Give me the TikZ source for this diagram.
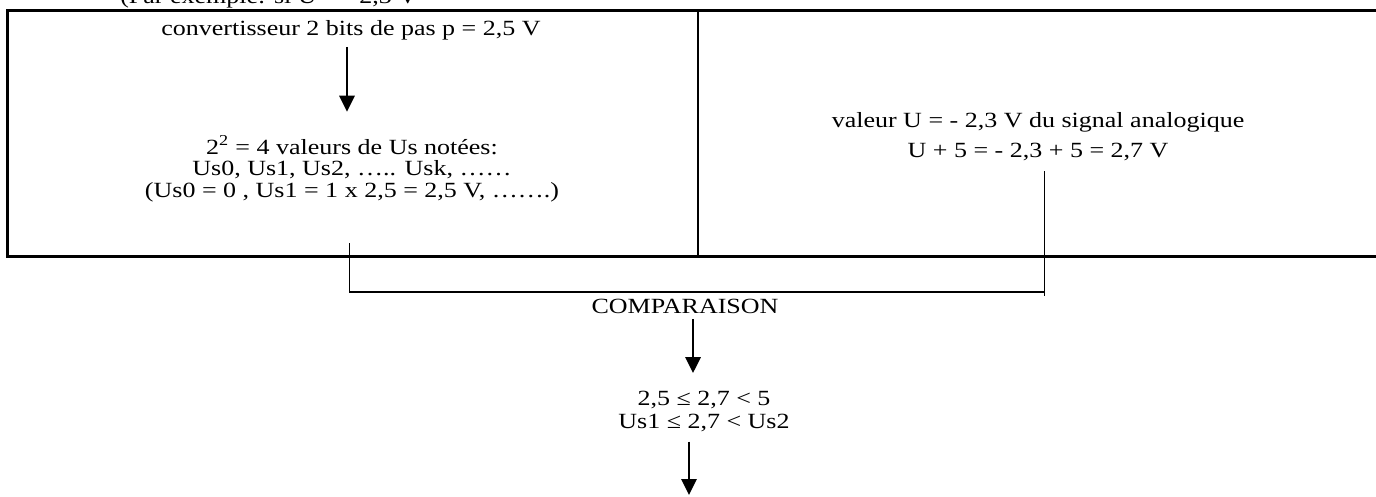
\documentclass[tikz,border=0pt]{standalone}
\usepackage{fontspec}
\setmainfont{Liberation Serif}[FakeStretch=1.2]
\usepackage{tikz}
\usetikzlibrary{arrows.meta, positioning, calc}

\begin{document}
\begin{tikzpicture}[x=0.75pt, y=-0.75pt,
    txt/.style={font=\fontsize{16.25}{16}\selectfont, align=center, inner sep=0pt, anchor=base},
    frame/.style={line width=1.7pt},
    link/.style={line width=1pt},
    flow/.style={-{Triangle[length=12pt, width=11.5pt]}, line width=1.7pt}]
    \useasboundingbox (0,0) rectangle (1376,496);
    \clip (0,0) rectangle (1376,496);

    % line cut at the top of the page
    \node[txt, anchor=base west] (ex) at (120,3.5) {(Par exemple: si U = - 2,3 V};

    % table
    \draw[frame] (1376,10.5) -- (7.5,10.5) -- (7.5,256.5) -- (1376,256.5);
    \draw[frame] (698,10.5) -- (698,256.5);

    % base = last line
    \node[txt] (conv) at (351,36) {convertisseur 2 bits de pas p = 2,5 V};
    \node[txt] (vals) at (352,197) {2\textsuperscript{2} = 4 valeurs de Us notées:\\
        Us0, Us1, Us2, ….. Usk, ……\\
        (Us0 = 0 , Us1 = 1 x 2,5 = 2,5 V, …….)};
    \node[txt, font=\fontsize{16.25}{22.5}\selectfont] (sig) at (1038,157) {valeur U = - 2,3 V du signal analogique\\
        U + 5 = - 2,3 + 5 = 2,7 V};

    \draw[flow, shorten <=4.5pt, shorten >=18pt] ([xshift=-3pt]conv.south) -- ([xshift=-3pt]conv.south |- vals.north);

    % comparison
    \coordinate (join) at (697,292);
    \draw[link, shorten <=31pt, shorten >=7.5pt] ([xshift=-2pt]vals.south) |- (join) -| ([xshift=5pt]sig.south);
    \draw[link] ([xshift=5pt]sig.south |- join) -- ++(0,4);

    \node[txt] (comp) at (685,313) {COMPARAISON};
    \node[txt, font=\fontsize{16.25}{17.25}\selectfont] (ineq) at (704,428) {2,5 ≤ 2,7 < 5\\Us1 ≤ 2,7 < Us2};
    \coordinate (out) at (689,495);

    \draw[flow, shorten <=4.5pt, shorten >=13pt] ([xshift=6pt]comp.south) -- ([xshift=6pt]comp.south |- ineq.north);
    \draw[flow, shorten <=7.5pt] (ineq.south -| out) -- (out);
\end{tikzpicture}
\end{document}
